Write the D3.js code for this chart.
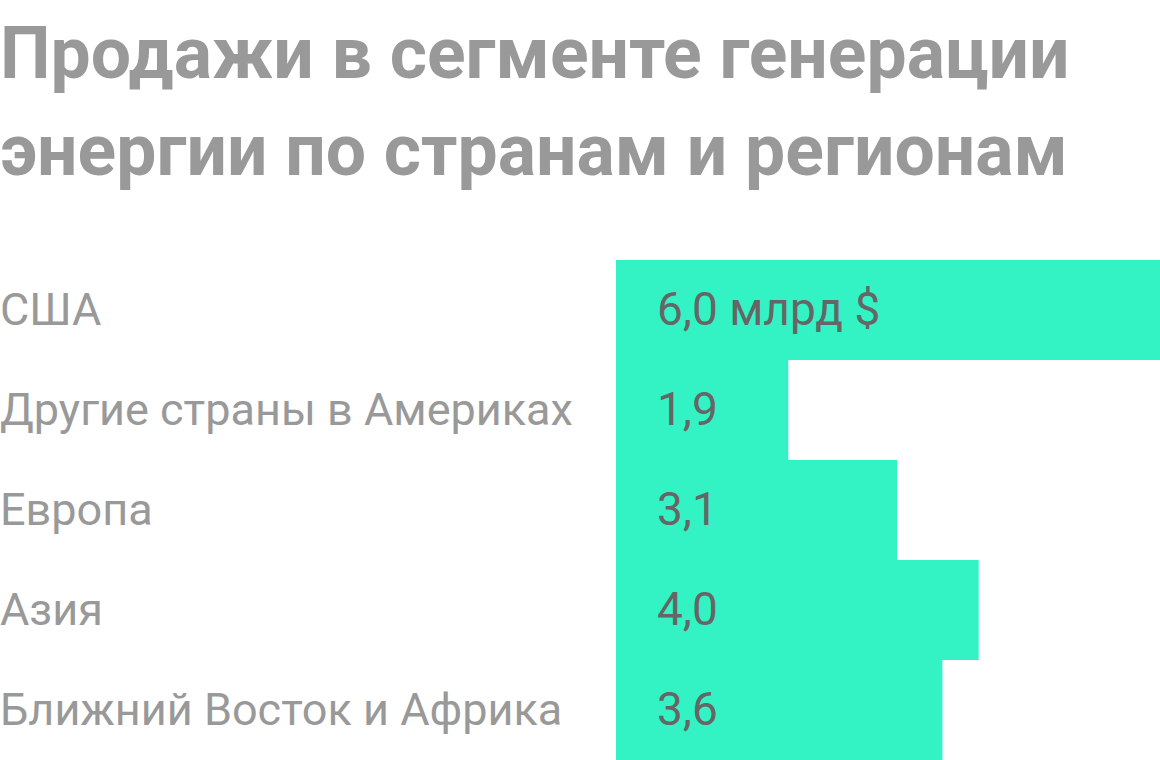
<!DOCTYPE html>
<html lang="ru">
<head>
<meta charset="utf-8">
<script src="https://cdn.jsdelivr.net/npm/d3@7"></script>
<style>
  html, body { margin: 0; padding: 0; background: #fff; }
  svg { display: block; font-family: Roboto, "Noto Sans", sans-serif; }
</style>
</head>
<body>
<svg id="chart"></svg>
<script>
const titleLines = ["Продажи в сегменте генерации", "энергии по странам и регионам"];
const regions = ["США", "Другие страны в Америках", "Европа", "Азия", "Ближний Восток и Африка"];
const sales = [6.0, 1.9, 3.1, 4.0, 3.6];
const valueLabels = ["6,0 млрд $", "1,9", "3,1", "4,0", "3,6"];

const width = 1160;
const height = 760;

const svg = d3.select("#chart").attr("width", width).attr("height", height);

svg.selectAll("text.title")
  .data(titleLines)
  .join("text")
  .attr("class", "title")
  .attr("x", 0)
  .attr("y", (d, i) => 78 + i * 97)
  .attr("fill", "#999999")
  .attr("font-size", 71.5)
  .attr("font-weight", 700)
  .text((d) => d);

const data = regions.map((r, i) => ({ region: r, value: sales[i], label: valueLabels[i] }));

const y = d3.scaleBand().domain(regions).range([260, 760]).padding(0);
const x = d3.scaleLinear().domain([0, 6]).range([616, 1160]);

svg.append("g")
  .selectAll("rect")
  .data(data)
  .join("rect")
  .attr("x", x(0))
  .attr("y", (d) => y(d.region))
  .attr("width", (d) => x(d.value) - x(0))
  .attr("height", y.bandwidth())
  .attr("fill", "#33f3c5");

// region names on the left
svg.append("g")
  .selectAll("text")
  .data(data)
  .join("text")
  .attr("x", 0)
  .attr("y", (d) => y(d.region) + 65)
  .attr("fill", "#999999")
  .attr("font-size", 45)
  .text((d) => d.region);

// values inside the bars
svg.append("g")
  .selectAll("text")
  .data(data)
  .join("text")
  .attr("x", x(0) + 41)
  .attr("y", (d) => y(d.region) + 65)
  .attr("fill", "#666666")
  .attr("font-size", 46)
  .text((d) => d.label);
</script>
</body>
</html>
